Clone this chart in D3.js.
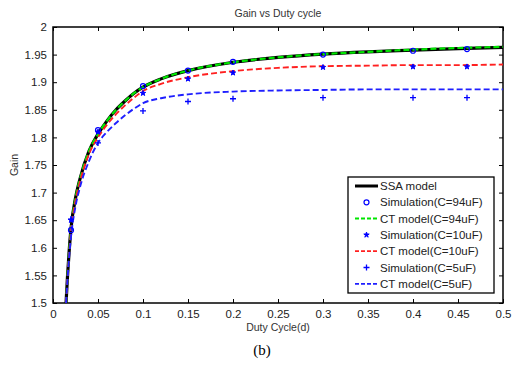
<!DOCTYPE html>
<html><head><meta charset="utf-8">
<script src="https://cdn.jsdelivr.net/npm/d3@7"></script>
<style>body{margin:0;background:#fff}svg{display:block;font-family:"Liberation Sans",Arial,sans-serif}</style>
</head><body>
<svg id="c" width="515" height="366"></svg>
<script>
const dGrid = [0.0145,0.016,0.018,0.02,0.025,0.03,0.04,0.05,0.06,0.07,0.08,0.09,0.1,0.12,0.15,0.2,0.25,0.3,0.35,0.4,0.45,0.5];
const ssa   = [1.50,1.545,1.595,1.635,1.69,1.725,1.775,1.806,1.830,1.850,1.866,1.880,1.891,1.906,1.921,1.936,1.945,1.951,1.955,1.958,1.961,1.963];
const ct94  = [1.50,1.545,1.595,1.635,1.69,1.725,1.775,1.806,1.830,1.850,1.866,1.880,1.891,1.906,1.921,1.936,1.945,1.951,1.955,1.959,1.962,1.964];
const ct10  = [1.50,1.543,1.590,1.630,1.685,1.720,1.770,1.800,1.823,1.842,1.858,1.872,1.884,1.897,1.909,1.920,1.926,1.929,1.930,1.931,1.931,1.932];
const ct5   = [1.50,1.540,1.585,1.620,1.675,1.710,1.757,1.790,1.810,1.826,1.840,1.852,1.862,1.871,1.878,1.883,1.885,1.886,1.887,1.887,1.887,1.887];
const simD  = [0.02,0.05,0.1,0.15,0.2,0.3,0.4,0.46];
const sim94 = [1.632,1.813,1.893,1.921,1.937,1.950,1.957,1.960];
const sim10 = [1.650,1.810,1.880,1.906,1.917,1.927,1.928,1.928];
const sim5  = [1.652,1.790,1.848,1.865,1.870,1.872,1.872,1.872];
const xTicks = [0,0.05,0.1,0.15,0.2,0.25,0.3,0.35,0.4,0.45,0.5];
const yTicks = [1.5,1.55,1.6,1.65,1.7,1.75,1.8,1.85,1.9,1.95,2];
const legendLabels = ["SSA model","Simulation(C=94uF)","CT model(C=94uF)","Simulation(C=10uF)","CT model(C=10uF)","Simulation(C=5uF)","CT model(C=5uF)"];

const svg = d3.select("#c");
const L=53,R=503,T=27,B=303;
const x = d3.scaleLinear().domain([0,0.5]).range([L,R]);
const y = d3.scaleLinear().domain([1.5,2]).range([B,T]);

svg.append("defs").append("clipPath").attr("id","clip").append("rect").attr("x",L).attr("y",T).attr("width",R-L).attr("height",B-T);

const tc = "#222";
const fmt = d => String(d);
svg.append("g").attr("transform",`translate(0,${B})`).call(d3.axisBottom(x).tickValues(xTicks).tickFormat(fmt).tickSizeInner(-4).tickSizeOuter(0).tickPadding(7))
  .call(g=>{g.select(".domain").remove();g.selectAll("text").attr("font-size",11.5).attr("fill",tc);g.selectAll("line").attr("stroke","#000");});
svg.append("g").attr("transform",`translate(0,${T})`).call(d3.axisTop(x).tickValues(xTicks).tickFormat("").tickSizeInner(-4).tickSizeOuter(0))
  .call(g=>{g.select(".domain").remove();g.selectAll("line").attr("stroke","#000");});
svg.append("g").attr("transform",`translate(${L},0)`).call(d3.axisLeft(y).tickValues(yTicks).tickFormat(fmt).tickSizeInner(-4).tickSizeOuter(0).tickPadding(6))
  .call(g=>{g.select(".domain").remove();g.selectAll("text").attr("font-size",11.5).attr("fill",tc);g.selectAll("line").attr("stroke","#000");});
svg.append("g").attr("transform",`translate(${R},0)`).call(d3.axisRight(y).tickValues(yTicks).tickFormat("").tickSizeInner(-4).tickSizeOuter(0))
  .call(g=>{g.select(".domain").remove();g.selectAll("line").attr("stroke","#000");});
svg.append("rect").attr("x",L).attr("y",T).attr("width",R-L).attr("height",B-T).attr("fill","none").attr("stroke","#000").attr("stroke-width",1.5);

const line = d3.line().x((d,i)=>x(dGrid[i])).y(d=>y(d)).curve(d3.curveMonotoneX);
const plot = svg.append("g").attr("clip-path","url(#clip)");
plot.append("path").attr("d",line(ssa)).attr("fill","none").attr("stroke","#000").attr("stroke-width",3.2);
plot.append("path").attr("d",line(ct94)).attr("fill","none").attr("stroke","#00e600").attr("stroke-width",2.2).attr("stroke-dasharray","6,3");
plot.append("path").attr("d",line(ct10)).attr("fill","none").attr("stroke","#ff2020").attr("stroke-width",1.9).attr("stroke-dasharray","6,3");
plot.append("path").attr("d",line(ct5)).attr("fill","none").attr("stroke","#1f1fff").attr("stroke-width",1.9).attr("stroke-dasharray","6,3");

const blue = "#0000ff";
function circ(g,cx,cy){g.append("circle").attr("cx",cx).attr("cy",cy).attr("r",2.5).attr("fill","none").attr("stroke",blue).attr("stroke-width",1.2);}
function star(g,cx,cy){g.append("path").attr("d",d3.symbol(d3.symbolStar,9)()).attr("transform",`translate(${cx},${cy})`).attr("fill",blue).attr("stroke",blue).attr("stroke-width",1);}
function plus(g,cx,cy){g.append("path").attr("d",`M${cx-3},${cy}H${cx+3}M${cx},${cy-3}V${cy+3}`).attr("stroke",blue).attr("stroke-width",1.3);}
simD.forEach((d,i)=>{circ(svg,x(d),y(sim94[i]));star(svg,x(d),y(sim10[i]));plus(svg,x(d),y(sim5[i]));});

const lg = svg.append("g");
lg.append("rect").attr("x",348).attr("y",177).attr("width",146).attr("height",116).attr("fill","#fff").attr("stroke","#000").attr("stroke-width",1.3);
const kinds = [["line","#000",3,null],["circ"],["line","#00e600",2,"4,2"],["star"],["line","#ff2020",1.8,"4,2"],["plus"],["line","#1f1fff",1.8,"4,2"]];
legendLabels.forEach((t,i)=>{
  const yy = 186 + i*16.3;
  const k = kinds[i];
  if(k[0]==="line"){const l=lg.append("line").attr("x1",355).attr("x2",378).attr("y1",yy).attr("y2",yy).attr("stroke",k[1]).attr("stroke-width",k[2]); if(k[3]) l.attr("stroke-dasharray",k[3]);}
  else if(k[0]==="circ") circ(lg,366.5,yy);
  else if(k[0]==="star") star(lg,366.5,yy);
  else plus(lg,366.5,yy);
  lg.append("text").attr("x",380).attr("y",yy+4).attr("font-size",11.5).attr("fill",tc).text(t);
});

svg.append("text").attr("x",278).attr("y",17).attr("text-anchor","middle").attr("font-size",10.5).attr("fill","#333").text("Gain vs Duty cycle");
svg.append("text").attr("x",278).attr("y",331).attr("text-anchor","middle").attr("font-size",10.5).attr("fill","#333").text("Duty Cycle(d)");
svg.append("text").attr("transform","translate(18,165) rotate(-90)").attr("text-anchor","middle").attr("font-size",10.5).attr("fill","#333").text("Gain");
svg.append("text").attr("x",262).attr("y",355).attr("text-anchor","middle").attr("font-size",15).attr("font-family","'Liberation Serif','DejaVu Serif',serif").attr("fill","#000").text("(b)");
</script>
</body></html>
